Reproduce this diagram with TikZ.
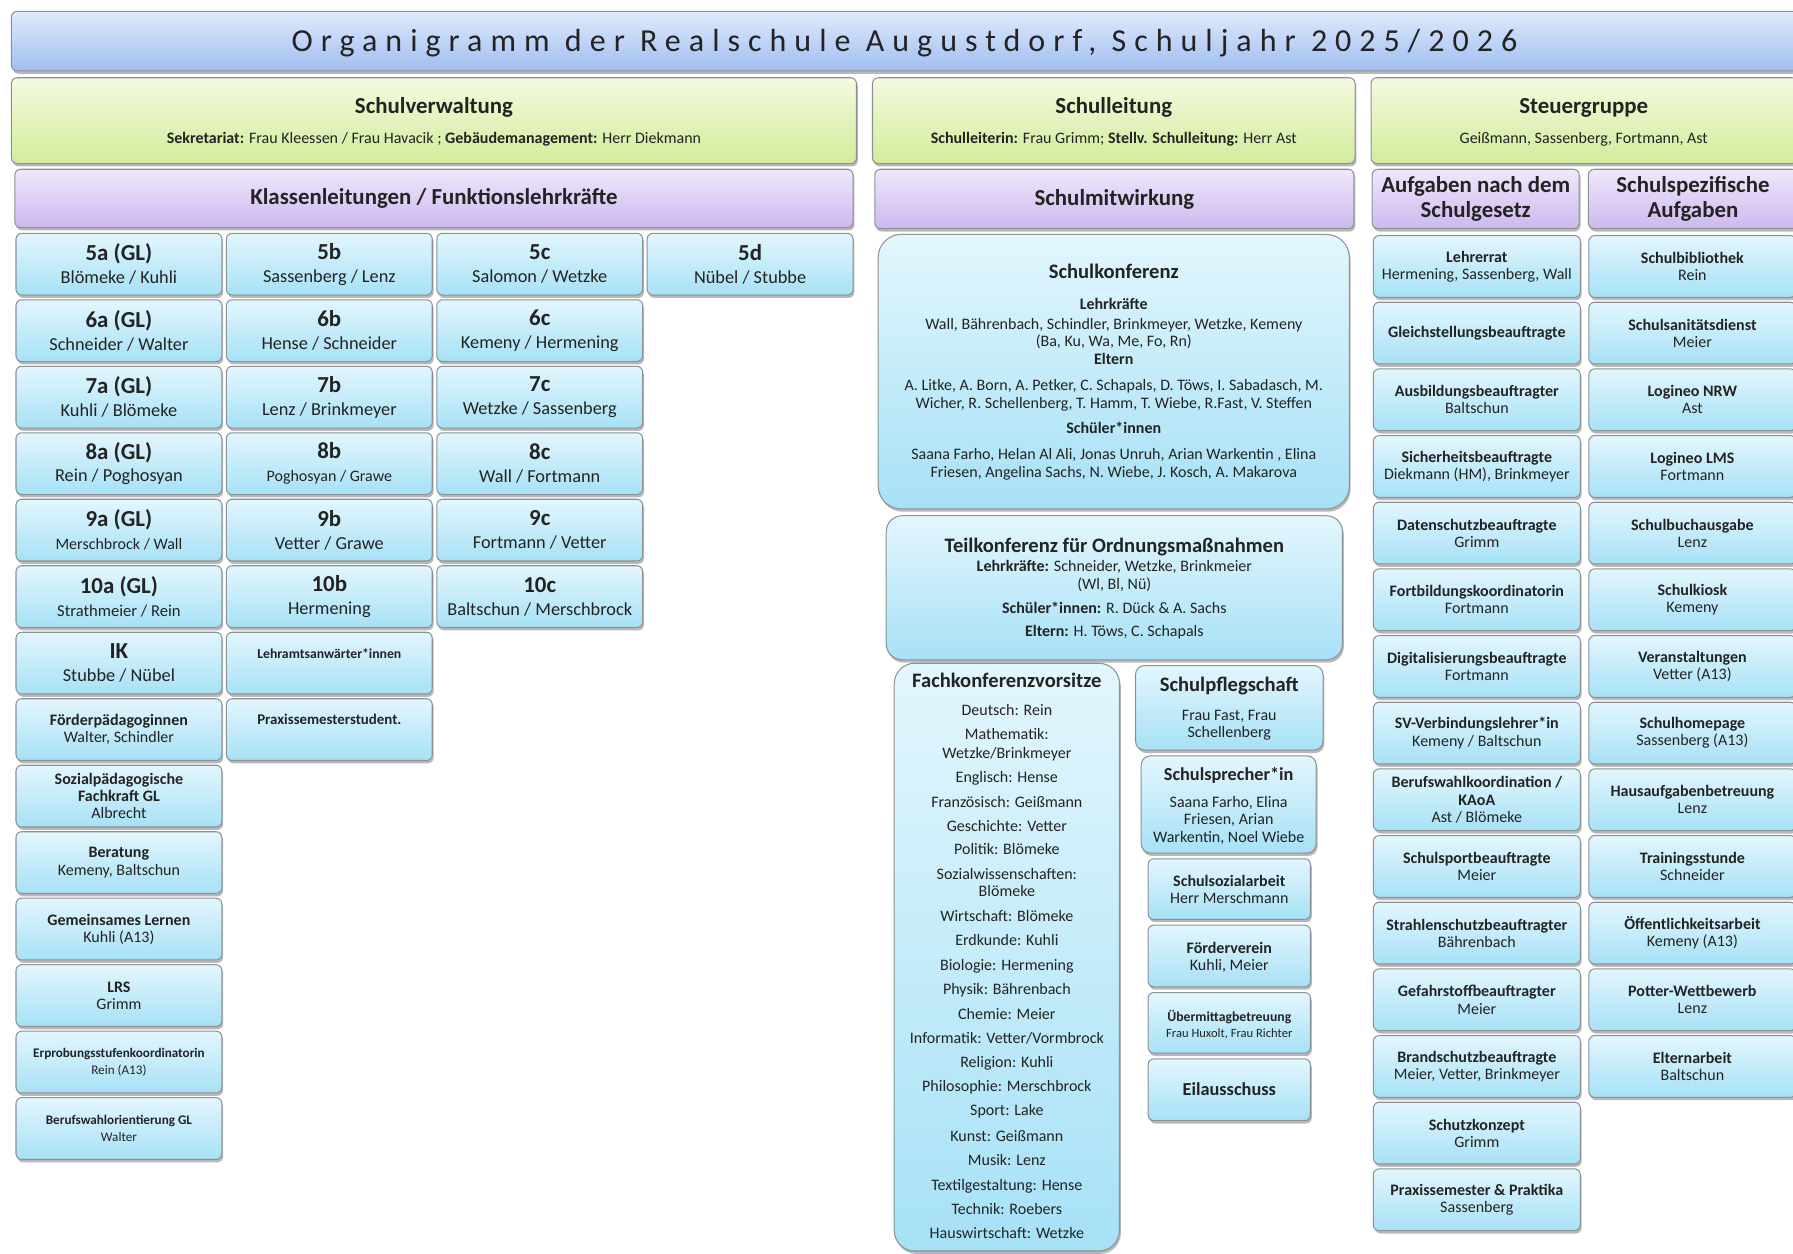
\documentclass[tikz,border=0pt]{standalone}
\usepackage{fontspec}
\setmainfont{Carlito}
\usetikzlibrary{shadows}
\newcommand\fs[2]{\fontsize{#1}{#2}\selectfont}
\definecolor{txt}{HTML}{232323}
\definecolor{bord}{HTML}{8C9196}
\definecolor{titT}{HTML}{E0EAFC}
\definecolor{titB}{HTML}{9FBEF0}
\definecolor{grnT}{HTML}{F4FADF}
\definecolor{grnB}{HTML}{D2EC9C}
\definecolor{purT}{HTML}{F0E8FB}
\definecolor{purB}{HTML}{CDB8EF}
\definecolor{bluT}{HTML}{E3F6FD}
\definecolor{bluB}{HTML}{A6E1F6}
\tikzset{
  x=1pt, y=-1pt,
  box/.style={draw=bord, line width=0.9pt, rounded corners=5pt, inner sep=0pt, align=center, text=txt,
    drop shadow={shadow xshift=1.2pt, shadow yshift=-2.5pt, fill=black, opacity=0.28}},
  titlebox/.style={box, top color=titT, bottom color=titB},
  greenbox/.style={box, top color=grnT, bottom color=grnB},
  purplebox/.style={box, top color=purT, bottom color=purB, font=\fs{20}{22}\bfseries},
  bluebox/.style={box, top color=bluT, bottom color=bluB},
  ln/.style={inner sep=0pt, anchor=mid, yshift=-3.5pt, text=txt, font=\fs{14}{16}},
  lnb/.style={ln, font=\fs{14}{16}\bfseries},
}
% box from corners: style, name, x1, y1, x2, y2, text
\newcommand\bx[7]{\node[#1, minimum width={(#5)-(#3)}, minimum height={(#6)-(#4)}] (#2) at ({((#3)+(#5))/2},{((#4)+(#6))/2}) {#7};}
% class grid box: name, col, row, text
\newcommand\cb[4]{\node[bluebox, minimum width=180, minimum height=54, font=\fs{16}{20}] (#1) at ({104+184*(#2-1)},{231+58.15*(#3-1)}) {#4};}
% function box in left column: name, row, text
\newcommand\fb[3]{\node[bluebox, minimum width=180, minimum height=54, font=\fs{14}{15}] (#1) at (104,{231+58.15*(#2-1)}) {#3};}
% right boxes: name, col (0/1), row, text
\newcommand\rb[4]{\node[bluebox, minimum width=181, minimum height=54, font=\fs{14}{15}] (#1) at ({1291.5+188.5*#2},{233+58.3*(#3-1)}) {#4};}
\newcommand\cn[1]{{\fs{20}{20}\bfseries #1}}
\begin{document}
\begin{tikzpicture}
\useasboundingbox (0,0) rectangle (1568,1096);
\clip (0,0) rectangle (1568,1096);
\fill[white] (0,0) rectangle (1568,1096);

% ---------- title ----------
\bx{titlebox}{titlebar}{10}{10}{1578}{62}{}
\node[ln, font=\fs{28}{32}\addfontfeatures{LetterSpace=25}] (titletext) at (791,39) {Organigramm der Realschule Augustdorf, Schuljahr 2025/2026};

% ---------- green row ----------
\bx{greenbox}{verw}{10}{68}{749}{143}{}
\node[ln, font=\fs{20}{22}\bfseries] (verwT) at (379.5,93) {Schulverwaltung};
\node[ln, font=\fs{14}{15}] (verwS) at (379.5,120) {\textbf{Sekretariat:} Frau Kleessen / Frau Havacik ; \textbf{Gebäudemanagement:} Herr Diekmann};
\bx{greenbox}{leit}{763}{68}{1185}{143}{}
\node[ln, font=\fs{20}{22}\bfseries] (leitT) at (974,93) {Schulleitung};
\node[ln, font=\fs{14}{15}] (leitS) at (974,120) {\textbf{Schulleiterin:} Frau Grimm; \textbf{Stellv. Schulleitung:} Herr Ast};
\bx{greenbox}{steuer}{1199}{68}{1572}{143}{}
\node[ln, font=\fs{20}{22}\bfseries] (steuerT) at (1385,93) {Steuergruppe};
\node[ln, font=\fs{14}{15}] (steuerS) at (1385,120) {Geißmann, Sassenberg, Fortmann, Ast};

% ---------- purple row ----------
\bx{purplebox}{klass}{13}{148}{746}{199}{Klassenleitungen / Funktionslehrkräfte}
\bx{purplebox}{mitw}{765}{148}{1184}{200}{Schulmitwirkung}
\bx{purplebox}{aufg}{1200}{148}{1381}{200}{Aufgaben nach dem\\Schulgesetz}
\bx{purplebox}{spez}{1389}{148}{1572}{200}{Schulspezifische\\Aufgaben}

% ---------- class grid ----------
\cb{c5a}{1}{1}{\cn{5a (GL)}\\Blömeke / Kuhli}
\cb{c5b}{2}{1}{\cn{5b}\\Sassenberg / Lenz}
\cb{c5c}{3}{1}{\cn{5c}\\Salomon / Wetzke}
\cb{c5d}{4}{1}{\cn{5d}\\Nübel / Stubbe}
\cb{c6a}{1}{2}{\cn{6a (GL)}\\Schneider / Walter}
\cb{c6b}{2}{2}{\cn{6b}\\Hense / Schneider}
\cb{c6c}{3}{2}{\cn{6c}\\Kemeny / Hermening}
\cb{c7a}{1}{3}{\cn{7a (GL)}\\Kuhli / Blömeke}
\cb{c7b}{2}{3}{\cn{7b}\\Lenz / Brinkmeyer}
\cb{c7c}{3}{3}{\cn{7c}\\Wetzke / Sassenberg}
\cb{c8a}{1}{4}{\cn{8a (GL)}\\Rein / Poghosyan}
\cb{c8b}{2}{4}{\cn{8b}\\{\fs{14}{20}Poghosyan / Grawe}}
\cb{c8c}{3}{4}{\cn{8c}\\Wall / Fortmann}
\cb{c9a}{1}{5}{\cn{9a (GL)}\\{\fs{14}{20}Merschbrock / Wall}}
\cb{c9b}{2}{5}{\cn{9b}\\Vetter / Grawe}
\cb{c9c}{3}{5}{\cn{9c}\\Fortmann / Vetter}
\cb{c10a}{1}{6}{\cn{10a (GL)}\\{\fs{14.5}{20}Strathmeier / Rein}}
\cb{c10b}{2}{6}{\cn{10b}\\Hermening}
\cb{c10c}{3}{6}{\cn{10c}\\Baltschun / Merschbrock}
\cb{ik}{1}{7}{\cn{IK}\\Stubbe / Nübel}
\cb{lav}{2}{7}{}
\node[ln, font=\fs{12}{14}\bfseries] (lavT) at (288,570) {Lehramtsanwärter*innen};
\fb{foerd}{8}{{\bfseries Förderpädagoginnen}\\Walter, Schindler}
\cb{prax}{2}{8}{}
\node[ln, font=\fs{13}{14}\bfseries] (praxT) at (288,628) {Praxissemesterstudent.};
\fb{sozp}{9}{{\bfseries Sozialpädagogische}\\{\bfseries Fachkraft GL}\\Albrecht}
\fb{berat}{10}{{\bfseries Beratung}\\Kemeny, Baltschun}
\fb{gl}{11}{{\bfseries Gemeinsames Lernen}\\Kuhli (A13)}
\fb{lrs}{12}{{\bfseries LRS}\\Grimm}
\fb{erpr}{13}{{\fs{11.5}{13}\bfseries Erprobungsstufenkoordinatorin}\\{\fs{11.5}{13}Rein (A13)}}
\fb{bwo}{14}{{\fs{11.5}{12.5}\bfseries Berufswahlorientierung GL}\\{\fs{11.5}{12.5}Walter}}

% ---------- Schulmitwirkung ----------
\bx{bluebox, rounded corners=20pt}{skbox}{768}{205}{1180}{445}{}
\node[ln, font=\fs{18}{20}\bfseries] (sk1) at (974,238) {Schulkonferenz};
\node[lnb] (sk2) at (974,265) {Lehrkräfte};
\node[ln] (sk3) at (974,282) {Wall, Bährenbach, Schindler, Brinkmeyer, Wetzke, Kemeny};
\node[ln] (sk4) at (974,297) {(Ba, Ku, Wa, Me, Fo, Rn)};
\node[lnb] (sk5) at (974,313) {Eltern};
\node[ln] (sk6) at (974,336) {A. Litke, A. Born, A. Petker, C. Schapals, D. Töws, I. Sabadasch, M.};
\node[ln] (sk7) at (974,351) {Wicher, R. Schellenberg, T. Hamm, T. Wiebe, R.Fast, V. Steffen};
\node[lnb] (sk8) at (974,373) {Schüler*innen};
\node[ln] (sk9) at (974,396) {Saana Farho, Helan Al Ali, Jonas Unruh, Arian Warkentin , Elina};
\node[ln] (sk10) at (974,412) {Friesen, Angelina Sachs, N. Wiebe, J. Kosch, A. Makarova};

\bx{bluebox, rounded corners=14pt}{tkbox}{775}{451}{1174}{577}{}
\node[ln, font=\fs{18}{20}\bfseries] (tk1) at (974.5,477) {Teilkonferenz für Ordnungsmaßnahmen};
\node[ln, font=\fs{14}{15}] (tk2) at (974.5,494) {\textbf{Lehrkräfte:} Schneider, Wetzke, Brinkmeier};
\node[ln, font=\fs{14}{15}] (tk3) at (974.5,510) {(Wl, Bl, Nü)};
\node[ln, font=\fs{14}{15}] (tk4) at (974.5,531) {\textbf{Schüler*innen:} R. Dück \& A. Sachs};
\node[ln, font=\fs{14}{15}] (tk5) at (974.5,551) {\textbf{Eltern:} H. Töws, C. Schapals};

\bx{bluebox, rounded corners=18pt}{fkbox}{782}{580}{979}{1094}{}
\node[ln, font=\fs{18}{20}\bfseries] (fk0) at (880.5,595) {Fachkonferenzvorsitze};
\node[ln] (fk1) at (880.5,620) {Deutsch: Rein};
\node[ln] (fk2) at (880.5,641) {Mathematik:};
\node[ln] (fk3) at (880.5,657) {Wetzke/Brinkmeyer};
\node[ln] (fk4) at (880.5,678) {Englisch: Hense};
\node[ln] (fk5) at (880.5,700) {Französisch: Geißmann};
\node[ln] (fk6) at (880.5,721) {Geschichte: Vetter};
\node[ln] (fk7) at (880.5,741) {Politik: Blömeke};
\node[ln] (fk8) at (880.5,763) {Sozialwissenschaften:};
\node[ln] (fk9) at (880.5,778) {Blömeke};
\node[ln] (fk10) at (880.5,800) {Wirtschaft: Blömeke};
\node[ln] (fk11) at (880.5,821) {Erdkunde: Kuhli};
\node[ln] (fk12) at (880.5,843) {Biologie: Hermening};
\node[ln] (fk13) at (880.5,864) {Physik: Bährenbach};
\node[ln] (fk14) at (880.5,886) {Chemie: Meier};
\node[ln] (fk15) at (880.5,907) {Informatik: Vetter/Vormbrock};
\node[ln] (fk16) at (880.5,928) {Religion: Kuhli};
\node[ln] (fk17) at (880.5,949) {Philosophie: Merschbrock};
\node[ln] (fk18) at (880.5,970) {Sport: Lake};
\node[ln] (fk19) at (880.5,992) {Kunst: Geißmann};
\node[ln] (fk20) at (880.5,1013) {Musik: Lenz};
\node[ln] (fk21) at (880.5,1035) {Textilgestaltung: Hense};
\node[ln] (fk22) at (880.5,1056) {Technik: Roebers};
\node[ln] (fk23) at (880.5,1077) {Hauswirtschaft: Wetzke};

\bx{bluebox, rounded corners=8pt}{spfl}{993}{582}{1157}{656}{}
\node[ln, font=\fs{18}{20}\bfseries] (spfl1) at (1075,599) {Schulpflegschaft};
\node[ln] (spfl2) at (1075,624) {Frau Fast, Frau};
\node[ln] (spfl3) at (1075,639) {Schellenberg};
\bx{bluebox, rounded corners=8pt}{sspr}{998}{661}{1151}{746}{}
\node[ln, font=\fs{16}{18}\bfseries] (sspr1) at (1074.5,677) {Schulsprecher*in};
\node[ln] (sspr2) at (1074.5,700) {Saana Farho, Elina};
\node[ln] (sspr3) at (1074.5,715) {Friesen, Arian};
\node[ln] (sspr4) at (1074.5,731) {Warkentin, Noel Wiebe};
\bx{bluebox}{ssoz}{1004}{751}{1146}{804}{}
\node[lnb] (ssoz1) at (1075,769) {Schulsozialarbeit};
\node[ln] (ssoz2) at (1075,784) {Herr Merschmann};
\bx{bluebox}{fver}{1004}{809}{1146}{863}{}
\node[lnb] (fver1) at (1075,828) {Förderverein};
\node[ln] (fver2) at (1075,843) {Kuhli, Meier};
\bx{bluebox}{uemi}{1004}{868}{1146}{921}{}
\node[ln, font=\fs{12}{14}\bfseries] (uemi1) at (1075,887) {Übermittagbetreuung};
\node[ln, font=\fs{11}{13}] (uemi2) at (1075,901) {Frau Huxolt, Frau Richter};
\bx{bluebox}{eila}{1004}{926}{1146}{980}{}
\node[ln, font=\fs{16}{18}\bfseries] (eila1) at (1075,952) {Eilausschuss};

% ---------- right columns ----------
\rb{ra1}{0}{1}{{\bfseries Lehrerrat}\\Hermening, Sassenberg, Wall}
\rb{ra2}{0}{2}{{\bfseries Gleichstellungsbeauftragte}}
\rb{ra3}{0}{3}{{\bfseries Ausbildungsbeauftragter}\\Baltschun}
\rb{ra4}{0}{4}{{\bfseries Sicherheitsbeauftragte}\\Diekmann (HM), Brinkmeyer}
\rb{ra5}{0}{5}{{\bfseries Datenschutzbeauftragte}\\Grimm}
\rb{ra6}{0}{6}{{\bfseries Fortbildungskoordinatorin}\\Fortmann}
\rb{ra7}{0}{7}{{\bfseries Digitalisierungsbeauftragte}\\Fortmann}
\rb{ra8}{0}{8}{{\bfseries SV-Verbindungslehrer*in}\\Kemeny / Baltschun}
\rb{ra9}{0}{9}{{\bfseries Berufswahlkoordination /}\\{\bfseries KAoA}\\Ast / Blömeke}
\rb{ra10}{0}{10}{{\bfseries Schulsportbeauftragte}\\Meier}
\rb{ra11}{0}{11}{{\bfseries Strahlenschutzbeauftragter}\\Bährenbach}
\rb{ra12}{0}{12}{{\bfseries Gefahrstoffbeauftragter}\\Meier}
\rb{ra13}{0}{13}{{\bfseries Brandschutzbeauftragte}\\Meier, Vetter, Brinkmeyer}
\rb{ra14}{0}{14}{{\bfseries Schutzkonzept}\\Grimm}
\rb{ra15}{0}{15}{{\bfseries Praxissemester \& Praktika}\\Sassenberg}

\rb{rb1}{1}{1}{{\bfseries Schulbibliothek}\\Rein}
\rb{rb2}{1}{2}{{\bfseries Schulsanitätsdienst}\\Meier}
\rb{rb3}{1}{3}{{\bfseries Logineo NRW}\\Ast}
\rb{rb4}{1}{4}{{\bfseries Logineo LMS}\\Fortmann}
\rb{rb5}{1}{5}{{\bfseries Schulbuchausgabe}\\Lenz}
\rb{rb6}{1}{6}{{\bfseries Schulkiosk}\\Kemeny}
\rb{rb7}{1}{7}{{\bfseries Veranstaltungen}\\Vetter (A13)}
\rb{rb8}{1}{8}{{\bfseries Schulhomepage}\\Sassenberg (A13)}
\rb{rb9}{1}{9}{{\bfseries Hausaufgabenbetreuung}\\Lenz}
\rb{rb10}{1}{10}{{\bfseries Trainingsstunde}\\Schneider}
\rb{rb11}{1}{11}{{\bfseries Öffentlichkeitsarbeit}\\Kemeny (A13)}
\rb{rb12}{1}{12}{{\bfseries Potter-Wettbewerb}\\Lenz}
\rb{rb13}{1}{13}{{\bfseries Elternarbeit}\\Baltschun}
\end{tikzpicture}
\end{document}
